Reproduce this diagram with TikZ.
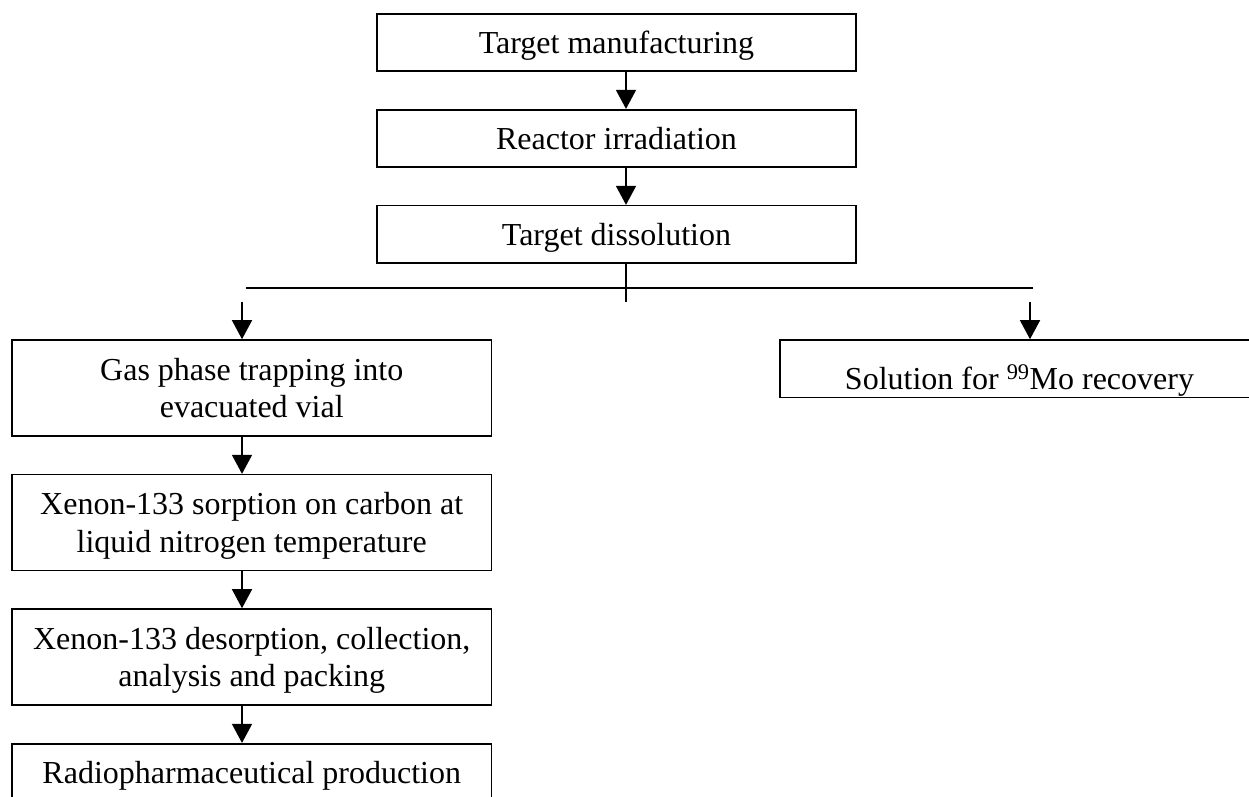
\documentclass[tikz,border=0pt]{standalone}
\usepackage{fontspec}
\setmainfont{Liberation Serif}
\usetikzlibrary{arrows.meta}
\newcommand{\ls}{\rule[-8pt]{0pt}{37.5pt}}
\begin{document}
\begin{tikzpicture}[x=1pt,y=-1pt,
  flowbox/.style={draw, line width=1.6pt, rectangle, inner sep=0pt, align=center,
    font=\fontsize{32}{37.5}\selectfont},
  topbox/.style={flowbox, minimum width=479pt, minimum height=57.3pt},
  leftbox/.style={flowbox, minimum width=479.5pt, minimum height=96pt},
  arr/.style={line width=1.5pt, -{Triangle[length=19pt,width=20pt]}},
  conn/.style={line width=1.5pt}]
\useasboundingbox (0,0) rectangle (1249,796);
% top column
\node[topbox] (tm) at (616.5,42.35) {\ls Target manufacturing};
\node[topbox] (ri) at (616.5,138.35) {\ls Reactor irradiation};
\node[topbox] (td) at (616.5,234.3) {\ls Target dissolution};
\coordinate (c) at (626,0);
\draw[arr] (tm.south -| c) -- (ri.north -| c);
\draw[arr] (ri.south -| c) -- (td.north -| c);
% split
\coordinate (tick) at (626,301.5);
\draw[conn] (td.south -| c) -- (tick);
\coordinate (hl) at (246,287.8);
\coordinate (hr) at (1033,287.8);
\draw[conn] (hl) -- (hr);
% left column
\node[leftbox] (gas) at (251.75,388) {\ls Gas phase trapping into\\\ls evacuated vial};
\node[leftbox] (sor) at (251.75,522.65) {\ls Xenon-133 sorption on carbon at\\\ls liquid nitrogen temperature};
\node[leftbox] (des) at (251.75,657) {\ls Xenon-133 desorption, collection,\\\ls analysis and packing};
\node[flowbox, minimum width=479.5pt, minimum height=57.3pt] (rad) at (251.75,772.35) {\ls Radiopharmaceutical production};
% right
\node[flowbox, minimum width=479pt, minimum height=57.5pt] (sol) at (1019.5,368.75) {\rule[-8.5pt]{0pt}{57.5pt}Solution for \textsuperscript{99}Mo recovery};
\coordinate (la) at (242,301.5);
\coordinate (ra) at (1030,301.5);
\draw[arr] (la) -- (la |- gas.north);
\draw[arr] (ra) -- (ra |- sol.north);
\draw[arr] (gas.south -| la) -- (sor.north -| la);
\draw[arr] (sor.south -| la) -- (des.north -| la);
\draw[arr] (des.south -| la) -- (rad.north -| la);
\end{tikzpicture}
\end{document}
